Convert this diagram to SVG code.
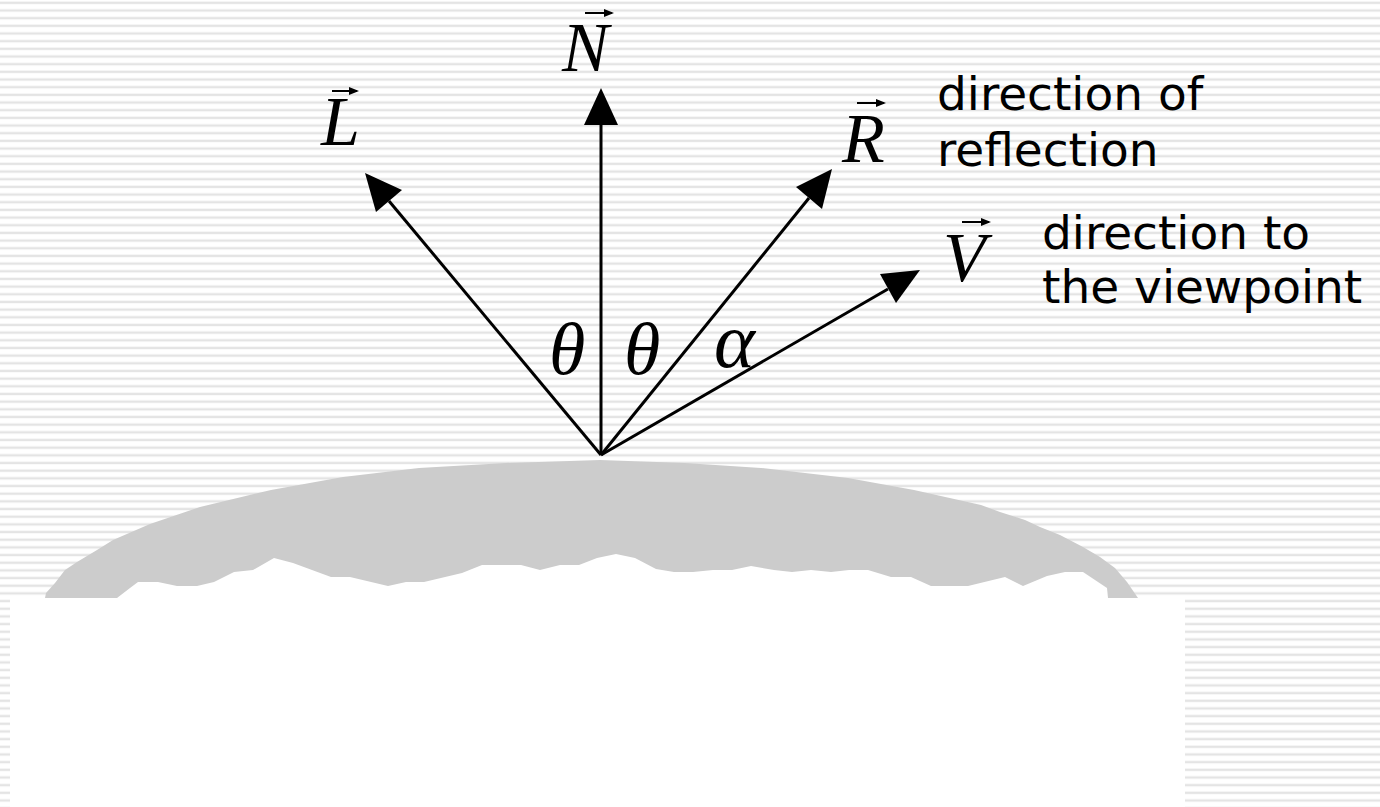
<svg xmlns="http://www.w3.org/2000/svg" width="1380" height="807" viewBox="0 0 1380 807">
<defs>
<pattern id="stripes" patternUnits="userSpaceOnUse" width="20" height="7.67">
<rect x="0" y="0" width="20" height="7.67" fill="#ffffff"/>
<rect x="0" y="1.6" width="20" height="2.4" fill="#e4e4e4"/>
</pattern>
<style>
.vec{font-family:"Liberation Serif","Times New Roman",serif;font-style:italic;font-size:70px;fill:#000}
.lbl{font-family:"DejaVu Sans",Verdana,sans-serif;font-size:47px;fill:#000}
.shaft{stroke:#000;stroke-width:3;fill:none}
.head{fill:#000;stroke:none}
.over{stroke:#000;stroke-width:2;fill:none}
</style>
</defs>
<rect x="0" y="0" width="1380" height="807" fill="url(#stripes)"/>
<g id="surface">
<path fill="#cccccc" d="M45,598 L46,593 L55,583 L65,570 L77,562 L97,550 L113,540 L150,524 L200,507 L271,490 L343,477 L419,468 L506,463 L600,460 L685,463 L761,468 L848,478 L914,490 L981,505 L1000,512 L1025,520 L1040,527 L1060,535 L1083,547 L1100,557 L1115,568 L1127,582 L1138,598 Z"/>
<path fill="#ffffff" d="M10,598 L117,598 L130,588 L138,582 L158,582 L177,586 L197,586 L214,582 L234,572 L253,570 L274,558 L293,563 L331,577 L350,577 L388,586 L406,582 L424,582 L462,573 L482,565 L521,565 L540,570 L560,565 L579,565 L597,558 L616,554 L635,558 L656,569 L674,572 L693,572 L713,570 L732,570 L751,566 L774,570 L792,572 L811,570 L831,572 L849,570 L868,570 L891,577 L911,577 L931,586 L968,586 L1005,577 L1023,586 L1047,576 L1065,572 L1083,572 L1107,588 L1108,598 L1185,598 L1185,807 L10,807 Z"/>
</g>
<g id="connectors">
<line class="shaft" x1="601" y1="455" x2="601" y2="122"/>
<polygon class="head" points="601,88 584,125 618,125"/>
<line class="shaft" x1="601" y1="455" x2="389" y2="201"/>
<polygon class="head" points="365,173 402,190 376,212"/>
<line class="shaft" x1="601" y1="455" x2="809" y2="198"/>
<polygon class="head" points="832,169 822,209 796,187"/>
<line class="shaft" x1="601" y1="455" x2="888" y2="289"/>
<polygon class="head" points="920,270 896,303 880,274"/>
</g>
<g id="N">
<text class="vec" x="562" y="71">N</text>
<path class="over" d="M585,13 L612,13"/>
<path class="head" d="M604,9 L614,13 L604,17 Z"/>
</g>
<g id="L">
<text class="vec" x="321" y="145">L</text>
<path class="over" d="M332,91 L357,91"/>
<path class="head" d="M349,87 L359,91 L349,95 Z"/>
</g>
<g id="R">
<text class="vec" x="842" y="162">R</text>
<path class="over" d="M857,103 L884,103"/>
<path class="head" d="M876,99 L886,103 L876,107 Z"/>
</g>
<g id="V">
<text class="vec" x="943" y="281">V</text>
<path class="over" d="M962,222 L989,222"/>
<path class="head" d="M981,218 L991,222 L981,226 Z"/>
</g>
<g id="angles">
<text class="vec" x="549" y="374" style="font-size:74px">θ</text>
<text class="vec" x="624" y="374" style="font-size:74px">θ</text>
<text class="vec" x="714" y="367" style="font-size:78px">α</text>
</g>
<g id="labels">
<text class="lbl" x="937" y="110">direction of</text>
<text class="lbl" x="937" y="166">reflection</text>
<text class="lbl" x="1042" y="249">direction to</text>
<text class="lbl" x="1042" y="303">the viewpoint</text>
</g>
</svg>
